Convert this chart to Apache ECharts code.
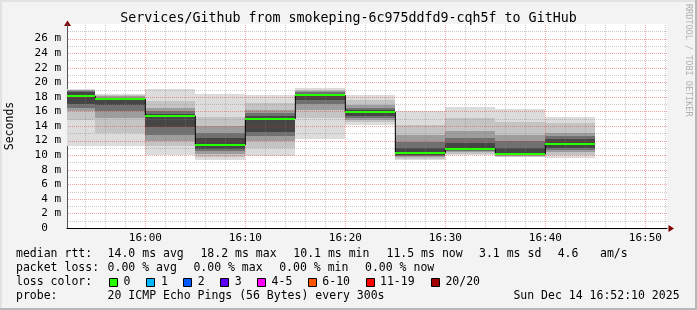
<!DOCTYPE html>
<html><head><meta charset="utf-8">
<script src="https://cdn.jsdelivr.net/npm/echarts@6/dist/echarts.min.js"></script>
<style>html,body{margin:0;padding:0;background:#f3f3f3;}#c{width:697px;height:310px;}</style>
</head><body><div id="c"></div>
<script>
// ---- data ----
const rangeStart = '15:52:10';
const rangeEnd = '16:52:10';
const segStart = ['15:52:10','15:55','16:00','16:05','16:10','16:15','16:20','16:25','16:30','16:35','16:40'];
const segEnd   = ['15:55','16:00','16:05','16:10','16:15','16:20','16:25','16:30','16:35','16:40','16:45'];
const median = [18.1, 17.7, 15.4, 11.45, 15.0, 18.2, 15.9, 10.35, 10.85, 10.15, 11.55];
// smoke bands, outermost (lightest) to innermost (darkest), in ms
const lo1 = [11.2, 11.2, 10.0, 9.4, 9.9, 12.2, 14.1, 9.3, 10.0, 9.7, 9.6];
const hi1 = [19.1, 18.4, 19.1, 18.4, 18.3, 19.2, 18.3, 16.0, 16.6, 16.4, 15.3];
const lo2 = [14.8, 13.0, 11.2, 9.8, 11.0, 15.1, 14.5, 9.5, 10.2, 9.8, 10.0];
const hi2 = [19.0, 18.3, 17.5, 15.3, 17.2, 19.0, 17.6, 14.2, 15.1, 14.6, 14.4];
const lo3 = [16.0, 15.1, 12.0, 10.2, 12.0, 16.2, 14.8, 9.7, 10.4, 9.9, 10.4];
const hi3 = [18.9, 18.1, 16.5, 14.0, 16.2, 18.8, 16.9, 12.8, 13.3, 12.8, 13.1];
const lo4 = [16.5, 16.0, 12.8, 10.6, 12.6, 17.0, 15.1, 9.9, 10.6, 10.0, 10.7];
const hi4 = [18.8, 17.9, 16.0, 13.0, 15.8, 18.6, 16.5, 11.8, 12.3, 12.0, 12.6];
const lo5 = [17.0, 16.9, 13.8, 10.9, 13.2, 17.6, 15.4, 10.0, 10.7, 10.05, 11.0];
const hi5 = [18.6, 17.8, 15.6, 12.3, 15.4, 18.4, 16.2, 11.0, 11.6, 11.0, 12.2];
const xTickLabels = ['16:00','16:10','16:20','16:30','16:40','16:50'];
const xMinorTicks = ['15:54','15:56','15:58','16:02','16:04','16:06','16:08','16:12','16:14','16:16','16:18','16:22','16:24','16:26','16:28','16:32','16:34','16:36','16:38','16:42','16:44','16:46','16:48','16:52'];
const yTicks = [0,2,4,6,8,10,12,14,16,18,20,22,24,26];
const yMinorTicks = [1,3,5,7,9,11,13,15,17,19,21,23,25,27];
const yMax = 28;
const lossLabels = ['0','1','2','3','4-5','6-10','11-19','20/20'];
const lossColors = ['#26ff00','#00b8ff','#0059ff','#5e00ff','#ff00ff','#ff5500','#ff0000','#a00000'];

// ---- build ----
const toSec = s => { const p = s.split(':'); return (+p[0])*3600 + (+p[1])*60 + (+(p[2]||0)); };
const fmt = v => { const h = Math.floor(v/3600), m = Math.floor((v%3600)/60); return (h<10?'0':'')+h+':'+(m<10?'0':'')+m; };
const X0 = toSec(rangeStart), X1 = toSec(rangeEnd);
const levels = [[lo1,hi1],[lo2,hi2],[lo3,hi3],[lo4,hi4],[lo5,hi5]];
const levelColors = ['#dcdcdc','#c4c4c4','#9d9d9d','#707070','#454545'];
const smokeData = [];
levels.forEach((lv, L) => {
  segStart.forEach((s, i) => smokeData.push([toSec(s), toSec(segEnd[i]), lv[0][i], lv[1][i], L]));
});
const medianStep = segStart.map((s, i) => [toSec(s), median[i]]);
medianStep.push([toSec(segEnd[segEnd.length-1]), median[median.length-1]]);
const greenData = segStart.map((s, i) => [toSec(s), toSec(segEnd[i]), median[i]]);
const gridData = [];
xMinorTicks.forEach(t => gridData.push([toSec(t), 0, toSec(t), yMax, 0]));
xTickLabels.forEach(t => gridData.push([toSec(t), 0, toSec(t), yMax, 1]));
yMinorTicks.forEach(v => gridData.push([X0, v, X1, v, 0]));
yTicks.filter(v => v > 0).forEach(v => gridData.push([X0, v, X1, v, 1]));

const MONO = '"DejaVu Sans Mono", monospace';
const chart = echarts.init(document.getElementById('c'), null, {renderer: 'canvas'});

const graphics = [];
const txt = (text, x, y, size, extra) => graphics.push(Object.assign({
  type: 'text', x: x, y: y,
  style: { text: text, font: size + 'px ' + MONO, fill: '#000', align: 'left', verticalAlign: 'middle' }
}, extra || {}));
// border shading
graphics.push({type:'rect', shape:{x:0,y:0,width:697,height:2}, style:{fill:'#e2e2e2'}});
graphics.push({type:'rect', shape:{x:0,y:0,width:2,height:310}, style:{fill:'#e2e2e2'}});
graphics.push({type:'rect', shape:{x:0,y:308,width:697,height:2}, style:{fill:'#b8b8b8'}});
graphics.push({type:'rect', shape:{x:695,y:0,width:2,height:310}, style:{fill:'#b8b8b8'}});
// title
graphics.push({type:'text', x:348.5, y:19, style:{text:'Services/Github from smokeping-6c975ddfd9-cqh5f to GitHub', font:'13.3px '+MONO, fill:'#000', align:'center', verticalAlign:'middle'}});
// vertical side texts
graphics.push({type:'text', x:10, y:126, rotation: Math.PI/2, style:{text:'Seconds', font:'11.5px '+MONO, fill:'#000', align:'center', verticalAlign:'middle'}});
graphics.push({type:'text', x:688, y:4, rotation: -Math.PI/2, style:{text:'RRDTOOL / TOBI OETIKER', font:'8.5px '+MONO, fill:'#b0b0b0', align:'left', verticalAlign:'middle'}});
// arrows
graphics.push({type:'polygon', shape:{points:[[67.5,20.5],[64,26],[71,26]]}, style:{fill:'#800000'}});
graphics.push({type:'polygon', shape:{points:[[674,228.5],[668.5,225],[668.5,232]]}, style:{fill:'#800000'}});
// legend rows
const LF = 11.5;
const r1 = 254.5, r2 = 268.5, r3 = 282.5, r4 = 296.5;
txt('median rtt:', 16, r1, LF);
txt('14.0 ms avg', 107.6, r1, LF);
txt('18.2 ms max', 200.4, r1, LF);
txt('10.1 ms min', 293.3, r1, LF);
txt('11.5 ms now', 386.5, r1, LF);
txt('3.1 ms sd', 479, r1, LF);
txt('4.6', 557.7, r1, LF);
txt('am/s', 600, r1, LF);
txt('packet loss:', 16, r2, LF);
txt('0.00 % avg', 107.6, r2, LF);
txt('0.00 % max', 193.4, r2, LF);
txt('0.00 % min', 279.2, r2, LF);
txt('0.00 % now', 365, r2, LF);
txt('loss color:', 16, r3, LF);
const swX = [109, 146, 183, 220, 256.5, 307.5, 365.5, 430.5];
const lbX = [123.6, 161, 197.8, 234.7, 271.6, 322.3, 380, 445.4];
lossLabels.forEach((l, i) => {
  graphics.push({type:'rect', shape:{x:Math.round(swX[i])+0.5, y:278.5, width:8, height:8}, style:{fill:lossColors[i], stroke:'#000', lineWidth:1}});
  txt(l, lbX[i], r3, LF);
});
txt('probe:', 16, r4, LF);
txt('20 ICMP Echo Pings (56 Bytes) every 300s', 107.6, r4, LF);
txt('Sun Dec 14 16:52:10 2025', 513.4, r4, LF);

chart.setOption({
  animation: false,
  backgroundColor: '#f3f3f3',
  grid: { left: 67, right: 30, top: 24, height: 204, show: true, backgroundColor: '#ffffff', borderWidth: 0 },
  xAxis: {
    type: 'value', min: X0, max: X1,
    axisLine: { show: true, lineStyle: { color: '#000', width: 1 } },
    axisTick: { show: false },
    splitLine: { show: false },
    axisLabel: {
      customValues: xTickLabels.map(toSec),
      formatter: v => fmt(v),
      margin: 5, fontFamily: MONO, fontSize: 11, color: '#000'
    }
  },
  yAxis: {
    type: 'value', min: 0, max: yMax, interval: 2,
    axisLine: { show: true, lineStyle: { color: '#555', width: 1 } },
    axisTick: { show: false },
    splitLine: { show: false },
    axisLabel: {
      formatter: v => (yTicks.indexOf(v) < 0 ? '' : (v === 0 ? '0  ' : v + ' m')),
      margin: 6, fontFamily: MONO, fontSize: 11, color: '#000'
    }
  },
  graphic: graphics,
  series: [
    {
      type: 'custom', name: 'smoke', z: 1, silent: true,
      data: smokeData,
      encode: { x: [0, 1], y: [2, 3] },
      renderItem: (params, api) => {
        const a = api.coord([api.value(0), api.value(3)]);
        const b = api.coord([api.value(1), api.value(2)]);
        const x1 = Math.round(a[0]), x2 = Math.round(b[0]);
        const y1 = Math.round(a[1]), y2 = Math.round(b[1]);
        return { type: 'rect', shape: { x: x1, y: y1, width: x2 - x1, height: y2 - y1 },
                 style: { fill: levelColors[api.value(4)] } };
      }
    },
    {
      type: 'custom', name: 'grid', z: 2, silent: true,
      data: gridData,
      encode: { x: [0, 2], y: [1, 3] },
      renderItem: (params, api) => {
        const a = api.coord([api.value(0), api.value(1)]);
        const b = api.coord([api.value(2), api.value(3)]);
        const major = api.value(4) === 1;
        const vertical = api.value(0) === api.value(2);
        let x1 = a[0], y1 = a[1], x2 = b[0], y2 = b[1];
        if (vertical) { x1 = x2 = Math.round(x1) + 0.5; y1 = Math.round(y1); y2 = Math.round(y2); }
        else { y1 = y2 = Math.round(y1) + 0.5; x1 = Math.round(x1) + 1; x2 = Math.round(x2); }
        return { type: 'line', shape: { x1: x1, y1: y1, x2: x2, y2: y2 },
                 style: { stroke: major ? 'rgba(225,40,40,0.42)' : 'rgba(130,130,130,0.42)', lineWidth: 1, lineDash: [1, 1] } };
      }
    },
    {
      type: 'line', name: 'median', z: 3, step: 'end', symbol: 'none', silent: true,
      data: medianStep,
      lineStyle: { color: '#000', width: 1 }
    },
    {
      type: 'custom', name: 'medianColor', z: 4, silent: true,
      data: greenData,
      encode: { x: [0, 1], y: 2 },
      renderItem: (params, api) => {
        const a = api.coord([api.value(0), api.value(2)]);
        const b = api.coord([api.value(1), api.value(2)]);
        const x1 = Math.round(a[0]), x2 = Math.round(b[0]);
        const y = Math.round(a[1]) - 1;
        return { type: 'rect', shape: { x: x1, y: y, width: x2 - x1, height: 2 },
                 style: { fill: lossColors[0] } };
      }
    }
  ]
});
</script>
</body></html>
